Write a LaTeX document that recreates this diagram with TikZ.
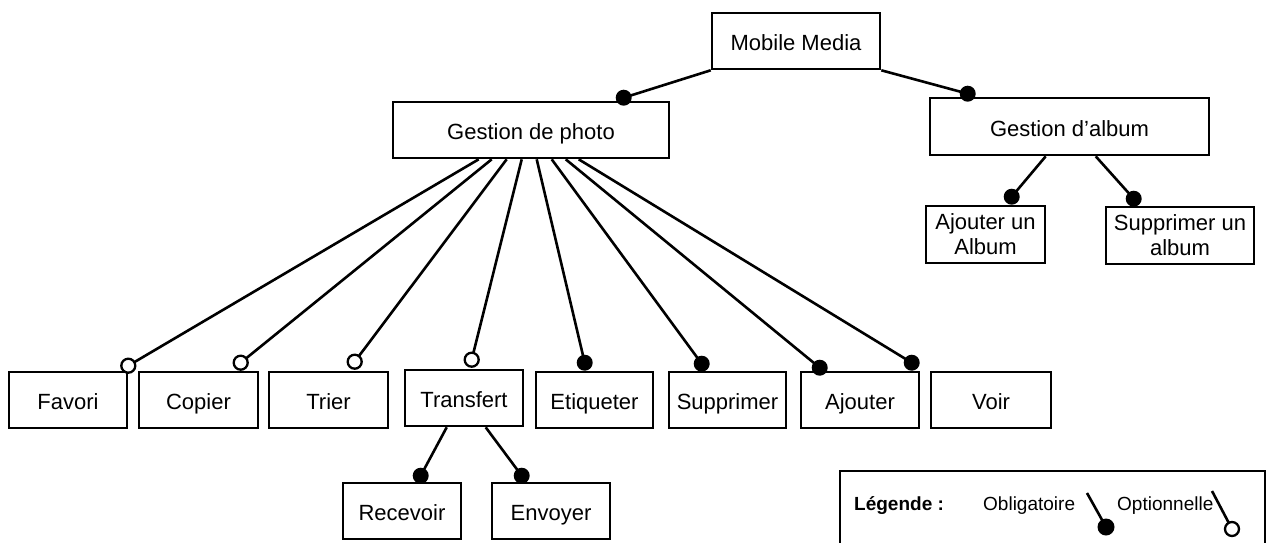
\documentclass[tikz,border=0pt]{standalone}
\usepackage{fontspec}
\setmainfont{Liberation Sans}
\usetikzlibrary{calc}
\begin{document}
\begin{tikzpicture}[x=1pt,y=-1pt,
  feature/.style={draw, line width=2.6pt, rectangle, inner sep=0pt,
    minimum height=56pt, minimum width=118pt,
    font=\fontsize{22}{25}\selectfont, text height=19pt, text depth=0pt},
  twoline/.style={draw, line width=2.6pt, rectangle, inner sep=0pt,
    minimum height=57pt, font=\fontsize{22}{25}\selectfont, align=center},
  link/.style={line width=2.6pt},
  mandatory/.style={fill=black},
  optional/.style={fill=white, draw=black, line width=2.3pt},
  legendtext/.style={anchor=base west, inner sep=0pt, font=\fontsize{19}{22}\selectfont}
]
\useasboundingbox (0,0) rectangle (1268,542);
\fill[white] (0,0) rectangle (1268,542);

% feature boxes
\node[feature, minimum width=168pt] (mm) at (796,41) {Mobile Media};
\node[feature, minimum width=276pt] (gp) at (531,130) {Gestion de photo};
\node[feature, minimum width=279pt, minimum height=57pt] (ga) at (1069.5,126.5) {Gestion d’album};
\node[twoline, minimum width=119pt] (aja) at (985.5,234.5) {Ajouter un\\Album};
\node[twoline, minimum width=148pt] (supa) at (1180,235.5) {Supprimer un\\album};

\node[feature] (fav) at (68,400) {Favori};
\node[feature, minimum width=119pt] (cop) at (198.5,400) {Copier};
\node[feature, minimum width=119pt] (tri) at (328.5,400) {Trier};
\node[feature] (tra) at (464,398) {Transfert};
\node[feature, minimum width=117pt] (eti) at (594.5,400) {Etiqueter};
\node[feature, minimum width=117pt] (sup) at (727.5,400) {Supprimer};
\node[feature] (ajo) at (860,400) {Ajouter};
\node[feature, minimum width=120pt] (voi) at (991,400) {Voir};
\node[feature] (rec) at (402,511) {Recevoir};
\node[feature] (env) at (551,511) {Envoyer};

% connector end points (dot centres)
\coordinate (d-gp)  at ([shift={(232,-3)}]gp.north west);
\coordinate (d-ga)  at ([shift={(39,-3)}]ga.north west);
\coordinate (d-fav) at ([shift={(0,-5)}]fav.north east);
\coordinate (d-cop) at ([shift={(103,-8)}]cop.north west);
\coordinate (d-tri) at ([shift={(87,-9)}]tri.north west);
\coordinate (d-tra) at ([shift={(68,-9)}]tra.north west);
\coordinate (d-eti) at ([shift={(50,-8)}]eti.north west);
\coordinate (d-sup) at ([shift={(34,-7)}]sup.north west);
\coordinate (d-ajo) at ([shift={(20,-3)}]ajo.north west);
\coordinate (d-ajo2) at ([shift={(112,-8)}]ajo.north west);
\coordinate (d-rec) at ([shift={(79,-6)}]rec.north west);
\coordinate (d-env) at ([shift={(31,-6)}]env.north west);
\coordinate (d-aja) at ([shift={(87,-8)}]aja.north west);
\coordinate (d-supa) at ([shift={(29,-7)}]supa.north west);

% connectors
\draw[link] (mm.south west) -- (d-gp);
\draw[link] (mm.south east) -- (d-ga);
\draw[link] ([xshift=87pt]gp.south west)  -- (d-fav);
\draw[link] ([xshift=100pt]gp.south west) -- (d-cop);
\draw[link] ([xshift=115pt]gp.south west) -- (d-tri);
\draw[link] ([xshift=130pt]gp.south west) -- (d-tra);
\draw[link] ([xshift=145pt]gp.south west) -- (d-eti);
\draw[link] ([xshift=160pt]gp.south west) -- (d-sup);
\draw[link] ([xshift=174pt]gp.south west) -- (d-ajo);
\draw[link] ([xshift=187pt]gp.south west) -- (d-ajo2);
\draw[link] ([xshift=43pt]tra.south west) -- (d-rec);
\draw[link] ([xshift=82pt]tra.south west) -- (d-env);
\draw[link] ([xshift=117pt]ga.south west) -- (d-aja);
\draw[link] ([xshift=167pt]ga.south west) -- (d-supa);

% mandatory dots
\foreach \d in {d-gp,d-ga,d-eti,d-sup,d-ajo,d-ajo2,d-rec,d-env,d-aja,d-supa}
  \fill[mandatory] (\d) circle[radius=8pt];
% optional circles
\foreach \d in {d-fav,d-cop,d-tri,d-tra}
  \draw[optional] (\d) circle[radius=7pt];

% legend
\draw[line width=2.6pt] (840,545) |- (1265,471) -- (1265,545);
\node[legendtext, font=\bfseries\fontsize{19}{22}\selectfont] (lg) at (854,510) {Légende :};
\node[legendtext] (lob) at (983,510) {Obligatoire};
\node[legendtext] (lop) at (1117,510) {Optionnelle};
\coordinate (m1) at (1087,493);
\coordinate (m2) at (1106,527);
\draw[link] (m1) -- (m2);
\fill[mandatory] (m2) circle[radius=8.5pt];
\coordinate (o1) at (1212,491);
\coordinate (o2) at (1232,529);
\draw[link] (o1) -- (o2);
\draw[optional] (o2) circle[radius=7pt];
\end{tikzpicture}
\end{document}
